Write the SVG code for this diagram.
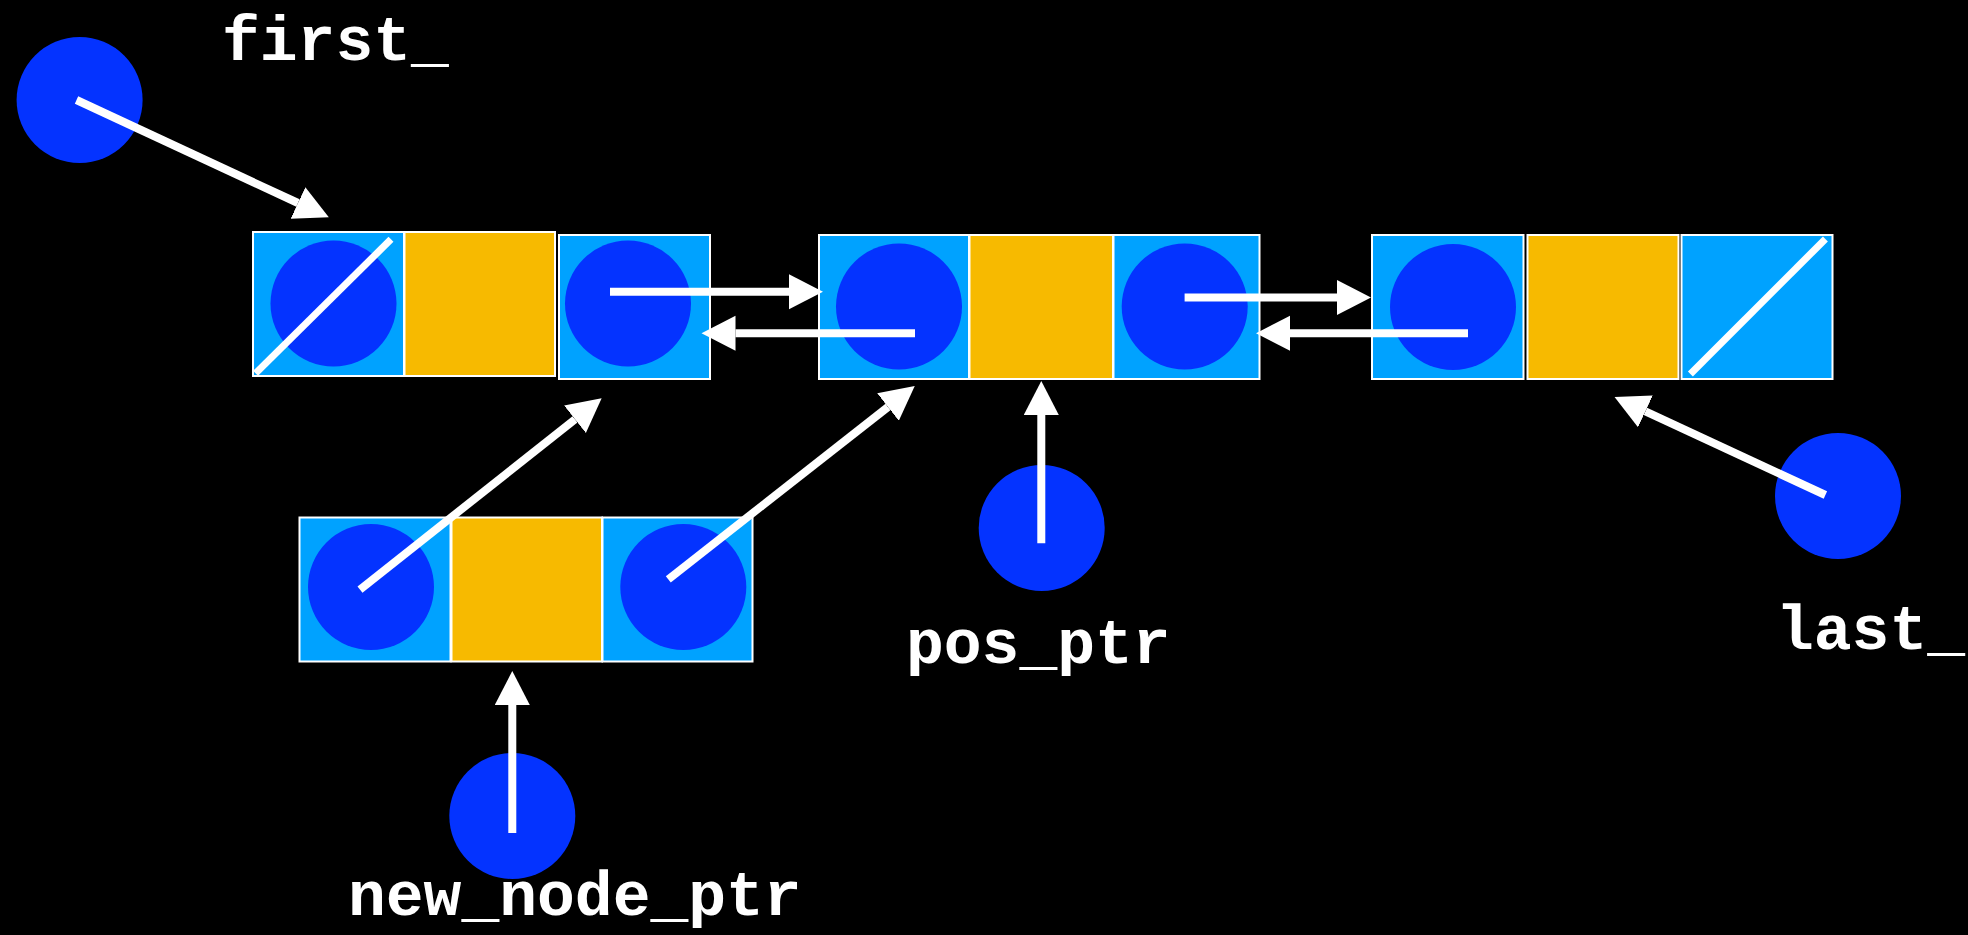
<svg xmlns="http://www.w3.org/2000/svg" width="1968" height="935" viewBox="0 0 1968 935">
<style>
.ptr{fill:#00A2FF;stroke:#FFFFFF;stroke-width:2}
.dat{fill:#F7BA00;stroke:#FFFFFF;stroke-width:2}
.dot{fill:#0433FF}
.ln{stroke:#FFFFFF;stroke-width:8;fill:none}
.sl{stroke:#FFFFFF;stroke-width:7;fill:none}
.lbl{font-family:"Liberation Mono","Courier New",monospace;font-weight:bold;font-size:63px;fill:#FFFFFF}
</style>
<defs>
<marker id="ah" markerUnits="userSpaceOnUse" markerWidth="36" markerHeight="36" refX="0" refY="17.5" orient="auto" viewBox="0 0 36 36">
<path d="M0,0 L34,17.5 L0,35 z" fill="#FFFFFF"/>
</marker>
</defs>
<rect x="0" y="0" width="1968" height="935" fill="#000000"/>

<g id="node1">
<rect class="ptr" x="253" y="232" width="151" height="144"/>
<circle class="dot" cx="333.5" cy="303.5" r="63"/>
<line class="sl" x1="255.6" y1="373.3" x2="391" y2="239.3"/>
<rect class="dat" x="404.5" y="232" width="150.5" height="144"/>
<rect class="ptr" x="559" y="235" width="151" height="144"/>
<circle class="dot" cx="628" cy="303.5" r="63"/>
</g>

<g id="node2">
<rect class="ptr" x="819" y="235" width="150" height="144"/>
<circle class="dot" cx="899" cy="306.5" r="63"/>
<rect class="dat" x="969.5" y="235" width="143.5" height="144"/>
<rect class="ptr" x="1113.5" y="235" width="146" height="144"/>
<circle class="dot" cx="1184.7" cy="306.5" r="63"/>
</g>

<g id="node3">
<rect class="ptr" x="1372" y="235" width="151.5" height="144"/>
<circle class="dot" cx="1453" cy="307" r="63"/>
<rect class="dat" x="1527.5" y="235" width="151" height="144"/>
<rect class="ptr" x="1681.5" y="235" width="151" height="144"/>
<line class="sl" x1="1690.4" y1="374" x2="1825.4" y2="239"/>
</g>

<g id="newnode">
<rect class="ptr" x="299.5" y="517.5" width="151" height="144"/>
<circle class="dot" cx="371" cy="587" r="63"/>
<rect class="dat" x="451.5" y="517.5" width="150.5" height="144"/>
<rect class="ptr" x="602.5" y="517.5" width="150" height="144"/>
<circle class="dot" cx="683.3" cy="587" r="63"/>
</g>

<g id="first_ptr">
<circle class="dot" cx="79.6" cy="100" r="63"/>
<text class="lbl" x="222" y="60">first_</text>
</g>

<g id="pos_ptr">
<circle class="dot" cx="1041.7" cy="528" r="63"/>
<text class="lbl" x="906" y="663">pos_ptr</text>
</g>

<g id="last_ptr">
<circle class="dot" cx="1838" cy="496" r="63"/>
<text class="lbl" x="1776" y="649">last_</text>
</g>

<g id="new_node_ptr">
<circle class="dot" cx="512.3" cy="816" r="63"/>
<text class="lbl" x="348" y="915">new_node_ptr</text>
</g>

<g id="connectors">
<line class="ln" x1="76.5" y1="100" x2="298" y2="203" marker-end="url(#ah)"/>
<line class="ln" x1="610" y1="291.7" x2="789" y2="291.7" marker-end="url(#ah)"/>
<line class="ln" x1="915" y1="333.3" x2="735.5" y2="333.3" marker-end="url(#ah)"/>
<line class="ln" x1="1184.6" y1="297.5" x2="1337" y2="297.5" marker-end="url(#ah)"/>
<line class="ln" x1="1468" y1="333.3" x2="1290" y2="333.3" marker-end="url(#ah)"/>
<line class="ln" x1="1825.4" y1="495" x2="1645.4" y2="411.4" marker-end="url(#ah)"/>
<line class="ln" x1="1041.3" y1="543.3" x2="1041.3" y2="415" marker-end="url(#ah)"/>
<line class="ln" x1="512.3" y1="833" x2="512.3" y2="705" marker-end="url(#ah)"/>
<line class="ln" x1="360" y1="589.6" x2="575" y2="419.3" marker-end="url(#ah)"/>
<line class="ln" x1="668.3" y1="579.3" x2="888" y2="407" marker-end="url(#ah)"/>
</g>
</svg>
